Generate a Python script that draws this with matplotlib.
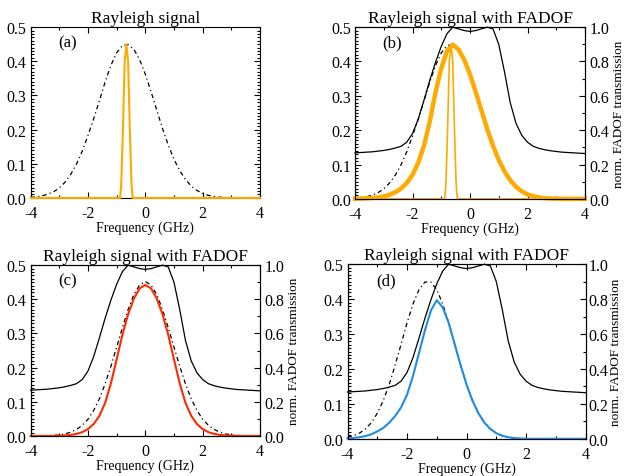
import matplotlib
matplotlib.use("Agg")
import matplotlib.pyplot as plt
from matplotlib.ticker import MultipleLocator, FormatStrFormatter

plt.rcParams['font.family'] = ['Liberation Serif', 'DejaVu Serif']
plt.rcParams['axes.unicode_minus'] = False

# --- data ---
freq = [-4.0, -3.8, -3.6, -3.4, -3.2, -3.0, -2.8, -2.6, -2.4, -2.2,
        -2.0, -1.8, -1.6, -1.4, -1.2, -1.0, -0.8, -0.6, -0.4, -0.2,
        0.0, 0.2, 0.4, 0.6, 0.8, 1.0, 1.2, 1.4, 1.6, 1.8,
        2.0, 2.2, 2.4, 2.6, 2.8, 3.0, 3.2, 3.4, 3.6, 3.8, 4.0]

# normalised FADOF transmission (right axis)
fadof = [0.268, 0.270, 0.272, 0.274, 0.278, 0.282, 0.288, 0.296, 0.306, 0.330,
         0.380, 0.465, 0.575, 0.690, 0.795, 0.888, 0.962, 1.000, 0.990, 0.980,
         0.975, 0.980, 0.990, 1.000, 0.990, 0.900, 0.740, 0.560, 0.440, 0.370,
         0.330, 0.306, 0.294, 0.286, 0.280, 0.276, 0.272, 0.270, 0.268, 0.266, 0.264]

# Rayleigh signal, laser at -0.66 GHz (panels a, b)
rayleigh_ab = [0.002, 0.003, 0.006, 0.011, 0.018, 0.029, 0.046, 0.069, 0.099, 0.137,
               0.183, 0.232, 0.285, 0.340, 0.388, 0.425, 0.446, 0.449, 0.435, 0.405,
               0.362, 0.311, 0.257, 0.203, 0.155, 0.113, 0.080, 0.054, 0.035, 0.022,
               0.013, 0.0075, 0.004, 0.002, 0.001, 0.0005, 0.000, 0.000, 0.000, 0.000, 0.000]

# filtered Rayleigh signal (panel b, thick orange)
filtered_b = [0.0005, 0.001, 0.0015, 0.0025, 0.004, 0.007, 0.012, 0.019, 0.030, 0.046,
              0.070, 0.105, 0.155, 0.225, 0.310, 0.380, 0.430, 0.449, 0.435, 0.405,
              0.362, 0.311, 0.257, 0.203, 0.155, 0.113, 0.080, 0.054, 0.035, 0.022,
              0.013, 0.0075, 0.004, 0.002, 0.001, 0.0005, 0.000, 0.000, 0.000, 0.000, 0.000]

# narrow laser line (panels a, b)
laser_freq = [-4.0, -0.88, -0.84, -0.78, -0.72, -0.66, -0.60, -0.54, -0.48, -0.44, 4.0]
laser_sig = [0.0, 0.0, 0.04, 0.20, 0.40, 0.45, 0.40, 0.20, 0.04, 0.0, 0.0]

# Rayleigh signal centred at 0 GHz (panel c) and filtered version
rayleigh_c = [0.000, 0.0001, 0.0003, 0.0007, 0.0016, 0.003, 0.006, 0.011, 0.019, 0.031,
              0.049, 0.075, 0.109, 0.153, 0.204, 0.260, 0.317, 0.370, 0.414, 0.442,
              0.452, 0.442, 0.414, 0.370, 0.317, 0.260, 0.204, 0.153, 0.109, 0.075,
              0.049, 0.031, 0.019, 0.011, 0.006, 0.003, 0.0016, 0.0007, 0.0003, 0.0001, 0.000]
filtered_c = [0.000, 0.000, 0.000, 0.000, 0.000, 0.0007, 0.0015, 0.003, 0.006, 0.011,
              0.020, 0.035, 0.059, 0.097, 0.154, 0.224, 0.296, 0.356, 0.402, 0.432,
              0.442, 0.432, 0.402, 0.356, 0.296, 0.224, 0.154, 0.097, 0.059, 0.035,
              0.020, 0.011, 0.006, 0.003, 0.0015, 0.0007, 0.000, 0.000, 0.000, 0.000, 0.000]

# Rayleigh signal centred at -1.3 GHz (panel d) and filtered version
rayleigh_d = [0.0045, 0.0087, 0.016, 0.028, 0.046, 0.073, 0.109, 0.155, 0.211, 0.271,
              0.332, 0.386, 0.427, 0.449, 0.449, 0.427, 0.386, 0.332, 0.271, 0.211,
              0.155, 0.109, 0.073, 0.046, 0.028, 0.016, 0.0087, 0.0045, 0.002, 0.001,
              0.000, 0.000, 0.000, 0.000, 0.000, 0.000, 0.000, 0.000, 0.000, 0.000, 0.000]
filtered_d = [0.0012, 0.0023, 0.0044, 0.0077, 0.013, 0.021, 0.031, 0.046, 0.065, 0.090,
              0.126, 0.180, 0.245, 0.310, 0.367, 0.397, 0.376, 0.332, 0.271, 0.211,
              0.155, 0.109, 0.073, 0.046, 0.028, 0.016, 0.0087, 0.0045, 0.002, 0.001,
              0.000, 0.000, 0.000, 0.000, 0.000, 0.000, 0.000, 0.000, 0.000, 0.000, 0.000]

ORANGE = '#FFAA00'
RED = '#FF2A00'
BLUE = '#1E8CE6'
DASHDOT = (0, (3.5, 2.5, 1, 2.5))


def style_axes(ax, mirror_right=True):
    ax.set_xlim(-4, 4)
    ax.set_ylim(0, 0.5)
    ax.xaxis.set_major_locator(MultipleLocator(2))
    ax.xaxis.set_minor_locator(MultipleLocator(1))
    ax.yaxis.set_major_locator(MultipleLocator(0.1))
    ax.yaxis.set_minor_locator(MultipleLocator(0.01))
    ax.yaxis.set_major_formatter(FormatStrFormatter('%.1f'))
    ax.tick_params(which='both', direction='in', top=True, right=mirror_right,
                   labelsize=11.5, width=0.8)
    ax.tick_params(which='major', length=4)
    ax.tick_params(which='minor', length=2)
    ax.tick_params(axis='x', pad=5)
    ax.tick_params(axis='y', pad=3)
    for s in ax.spines.values():
        s.set_linewidth(0.8)
    ax.set_xlabel('Frequency (GHz)', fontsize=10, labelpad=0)


def add_fadof(ax, labelpad=3, pad=3):
    ax2 = ax.twinx()
    ax2.plot(freq, fadof, color='black', lw=0.9, clip_on=False)
    ax2.set_ylim(0, 1.0)
    ax2.yaxis.set_major_locator(MultipleLocator(0.2))
    ax2.yaxis.set_minor_locator(MultipleLocator(0.1))
    ax2.yaxis.set_major_formatter(FormatStrFormatter('%.1f'))
    ax2.tick_params(which='both', direction='in', labelsize=11.5, width=0.8, pad=pad)
    ax2.tick_params(which='major', length=4)
    ax2.tick_params(which='minor', length=2)
    ax2.set_ylabel('norm. FADOF transmission', fontsize=9.5, labelpad=labelpad)
    return ax2


fig = plt.figure(figsize=(6.25, 4.77), dpi=100)
ax_a = fig.add_axes([0.049, 0.583, 0.367, 0.358])
ax_b = fig.add_axes([0.568, 0.581, 0.368, 0.360])
ax_c = fig.add_axes([0.049, 0.084, 0.367, 0.358])
ax_d = fig.add_axes([0.556, 0.078, 0.381, 0.366])

# (a)
style_axes(ax_a)
ax_a.plot(freq, rayleigh_ab, color='black', lw=0.9, linestyle=DASHDOT, clip_on=False)
ax_a.plot(laser_freq, laser_sig, color=ORANGE, lw=1.5, clip_on=False, zorder=3)
ax_a.set_title('Rayleigh signal', fontsize=12.5, pad=4)
ax_a.text(0.12, 0.91, '(a)', transform=ax_a.transAxes, fontsize=12, va='center')

# (b)
style_axes(ax_b, mirror_right=False)
add_fadof(ax_b)
ax_b.plot(freq, rayleigh_ab, color='black', lw=0.9, linestyle=DASHDOT, clip_on=False)
ax_b.plot(freq, filtered_b, color=ORANGE, lw=3.2, clip_on=False, zorder=3)
ax_b.plot(laser_freq, laser_sig, color=ORANGE, lw=1.2, clip_on=False, zorder=3)
ax_b.set_title('Rayleigh signal with FADOF', fontsize=12.5, pad=4)
ax_b.text(0.12, 0.91, '(b)', transform=ax_b.transAxes, fontsize=12, va='center')

# (c)
style_axes(ax_c, mirror_right=False)
add_fadof(ax_c)
ax_c.plot(freq, rayleigh_c, color='black', lw=0.9, linestyle=DASHDOT, clip_on=False)
ax_c.plot(freq, filtered_c, color=RED, lw=1.5, clip_on=False, zorder=3)
ax_c.set_title('Rayleigh signal with FADOF', fontsize=12.5, pad=4)
ax_c.text(0.12, 0.91, '(c)', transform=ax_c.transAxes, fontsize=12, va='center')

# (d) - right edge of the figure is tight, so the label sits closer
style_axes(ax_d, mirror_right=False)
add_fadof(ax_d, labelpad=1, pad=2)
ax_d.plot(freq, rayleigh_d, color='black', lw=0.9, linestyle=DASHDOT, clip_on=False)
ax_d.plot(freq, filtered_d, color=BLUE, lw=1.5, clip_on=False, zorder=3)
ax_d.set_title('Rayleigh signal with FADOF', fontsize=12.5, pad=4)
ax_d.text(0.12, 0.91, '(d)', transform=ax_d.transAxes, fontsize=12, va='center')

fig.savefig('out.png', dpi=100)
